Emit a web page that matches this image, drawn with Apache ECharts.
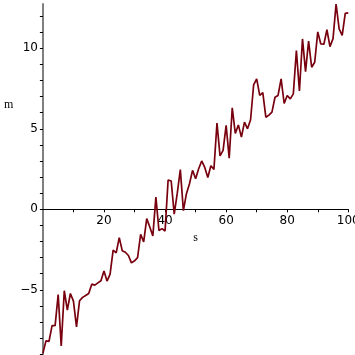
<!DOCTYPE html>
<html>
<head>
<meta charset="utf-8">
<script src="https://cdn.jsdelivr.net/npm/echarts@6/dist/echarts.min.js"></script>
<style>html,body{margin:0;padding:0;background:#fff}#c{width:355px;height:355px}</style>
</head>
<body>
<div id="c"></div>
<script>
var sValues = [0,1,2,3,4,5,6,7,8,9,10,11,12,13,14,15,16,17,18,19,20,21,22,23,24,25,26,27,28,29,30,31,32,33,34,35,36,37,38,39,40,41,42,43,44,45,46,47,48,49,50,51,52,53,54,55,56,57,58,59,60,61,62,63,64,65,66,67,68,69,70,71,72,73,74,75,76,77,78,79,80,81,82,83,84,85,86,87,88,89,90,91,92,93,94,95,96,97,98,99,100];
var mValues = [-8.95,-8.17,-8.2,-7.23,-7.23,-5.29,-8.49,-5.06,-6.26,-5.23,-5.7,-7.3,-5.68,-5.47,-5.35,-5.23,-4.65,-4.71,-4.57,-4.44,-3.84,-4.46,-4.03,-2.54,-2.71,-1.76,-2.58,-2.67,-2.87,-3.33,-3.2,-3.0,-1.55,-2.02,-0.58,-1.1,-1.65,0.76,-1.32,-1.2,-1.35,1.82,1.76,-0.3,1.0,2.46,-0.08,0.97,1.59,2.42,1.9,2.52,3.0,2.6,1.97,2.7,2.48,5.35,3.32,3.66,5.21,3.17,6.3,4.71,5.24,4.48,5.41,5.0,5.56,7.72,8.1,7.07,7.24,5.72,5.85,6.03,6.96,7.07,8.1,6.57,7.07,6.86,7.17,9.86,7.35,10.58,8.55,10.45,8.82,9.13,11.02,10.27,10.25,11.15,10.1,10.6,12.75,11.2,10.8,12.17,12.2];
var xTickValues = [10,20,30,40,50,60,70,80,90,100];
var xLabelValues = [20,40,60,80,100];
var yTickValues = [-9,-8,-7,-6,-5,-4,-3,-2,-1,0,1,2,3,4,5,6,7,8,9,10,11,12];
var yLabelValues = [-5,0,5,10];
var xName = 's';
var yName = 'm';

var chart = echarts.init(document.getElementById('c'), null, {renderer:'canvas'});
var data = sValues.map(function(s,i){return [s, mValues[i]];});
function fmt(v){ return v < 0 ? '\u2212' + (-v) : String(v); }
var gridBottom = 0;
chart.setOption({
  animation:false,
  backgroundColor:'#fff',
  grid:{left:42.9, right:6.7, top:4, bottom:gridBottom, containLabel:false, outerBoundsMode:'none'},
  xAxis:{
    type:'value', min:0, max:100, offset:0,
    name:xName, nameLocation:'middle', nameGap:18,
    nameTextStyle:{fontFamily:'Liberation Serif', fontSize:12, color:'#000'},
    axisLine:{onZero:false, lineStyle:{color:'#000', width:1}},
    axisTick:{show:true, inside:false, length:3, customValues:xTickValues, lineStyle:{color:'#000'}},
    axisLabel:{customValues:xLabelValues, margin:6, fontFamily:'DejaVu Sans', fontSize:12, color:'#000', formatter:fmt},
    splitLine:{show:false}
  },
  yAxis:{
    type:'value', min:-9.05, max:12.75,
    axisLine:{show:true, onZero:false, lineStyle:{color:'#808080', width:2}},
    axisTick:{show:true, inside:false, length:3, customValues:yTickValues, lineStyle:{color:'#000'}},
    axisLabel:{customValues:yLabelValues, margin:5, fontFamily:'DejaVu Sans', fontSize:12, color:'#000', formatter:fmt},
    splitLine:{show:false}
  },
  graphic:[{type:'text', left:4, top:99, style:{text:yName, font:'12px "Liberation Serif"', fill:'#000'}}],
  series:[{
    type:'line', data:data, showSymbol:false, symbol:'none',
    lineStyle:{color:'#78000E', width:1.7}, z:1
  }]
});
var zeroPy = chart.convertToPixel({gridIndex:0}, [0,0])[1];
var bottomPy = chart.getHeight() - gridBottom;
chart.setOption({xAxis:{offset: zeroPy - bottomPy}});
</script>
</body>
</html>
